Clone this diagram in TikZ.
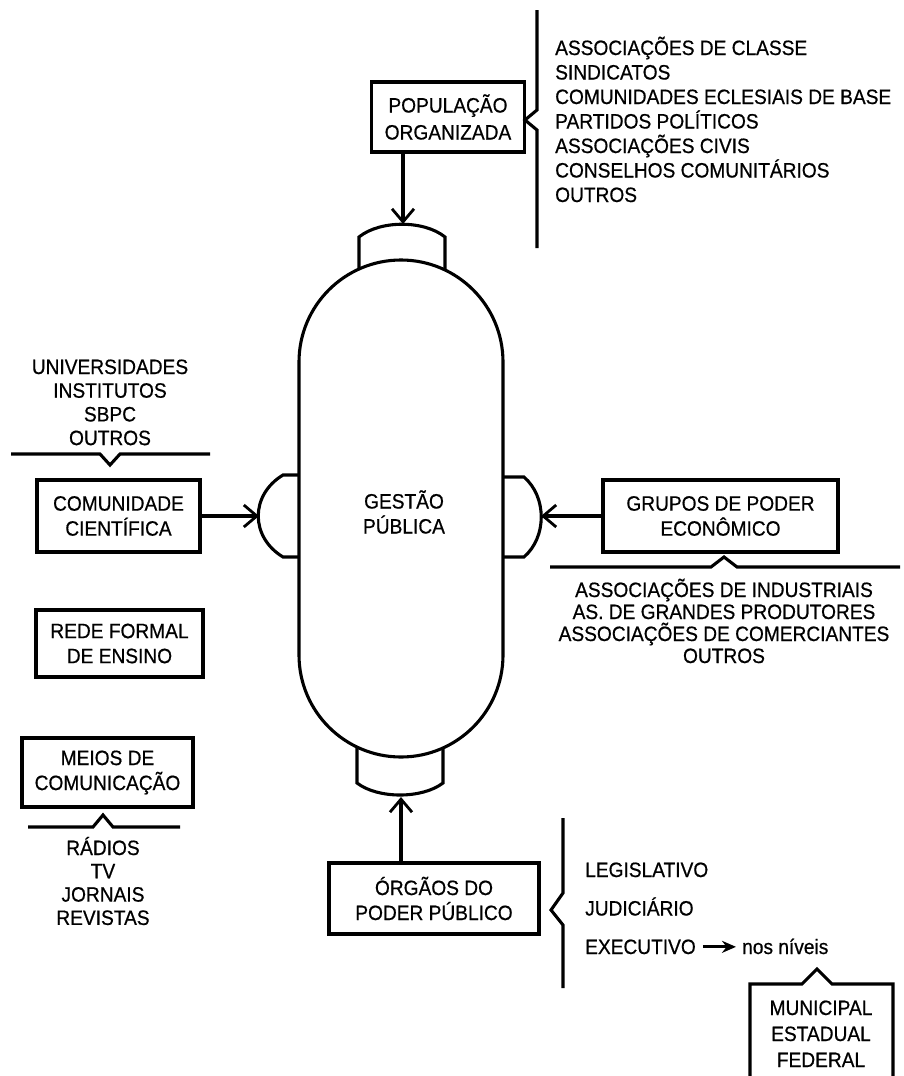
\documentclass[tikz,border=0pt]{standalone}
\usepackage{fontspec}
\setmainfont{Liberation Sans}[FakeStretch=0.92,FakeBold=0.6]
\usetikzlibrary{arrows.meta}
\begin{document}
\begin{tikzpicture}[x=1pt,y=-1pt,
  every node/.style={font=\fontsize{20.8}{25}\selectfont, inner sep=0pt},
  box/.style={draw, line width=3.2pt, align=center},
  ln/.style={line width=3.1pt, line join=miter},
  arr/.style={line width=3.1pt, -{Straight Barb[length=13pt,width=22pt,line width=2.8pt]}},
  sarr/.style={line width=2.8pt, -{Stealth[length=14pt,width=12pt]}},
  lbl/.style={anchor=base},
  lbll/.style={anchor=base west}]
\useasboundingbox (0,0) rectangle (903,1076);

% capsule
\draw[ln] (299,655) -- (299,362) arc[start angle=180,end angle=360,radius=102]
  -- (503,655) arc[start angle=0,end angle=180,radius=102] -- cycle;
% caps
\draw[ln] (359,269) -- (359,237) .. controls (380,220) and (424,220) .. (445,237) -- (445,269);
\draw[ln] (357,747) -- (357,783) .. controls (378,799) and (422,799) .. (443,783) -- (443,747);
\draw[ln] (299,475) -- (283,475) .. controls (250,495) and (250,537) .. (283,557) -- (299,557);
\draw[ln] (503,477) -- (524,477) .. controls (547,497) and (547,537) .. (524,557) -- (503,557);
\coordinate (topcap) at (403,224);
\coordinate (botcap) at (401,797);
\coordinate (leftcap) at (259,516);
\coordinate (rightcap) at (541,516);

\node (gestao) [align=center] at (404,512) {GESTÃO\\PÚBLICA};

% boxes
\node[box, minimum width=153pt, minimum height=70pt, font=\fontsize{20.8}{27}\selectfont] (pop) at (448,117) {POPULAÇÃO\\ORGANIZADA};
\node[box, minimum width=163pt, minimum height=72pt] (comm) at (118.5,516) {COMUNIDADE\\CIENTÍFICA};
\node[box, minimum width=167pt, minimum height=67pt] (rede) at (119.5,643.5) {REDE FORMAL\\DE ENSINO};
\node[box, minimum width=171pt, minimum height=69pt] (meios) at (107.5,772.5) {MEIOS DE\\COMUNICAÇÃO};
\node[box, minimum width=235pt, minimum height=72pt] (grupos) at (720.5,516) {GRUPOS DE PODER\\ECONÔMICO};
\node[box, minimum width=210pt, minimum height=71pt] (orgaos) at (434,898.5) {ÓRGÃOS DO\\PODER PÚBLICO};

% arrows into the capsule
\draw[arr] (pop.south -| topcap) -- (topcap);
\draw[arr] (comm) -- (leftcap);
\draw[arr] (grupos) -- (rightcap);
\draw[arr] (orgaos.north -| botcap) -- (botcap);

% top right list
\draw[ln] (537,10) -- (537,110) -- (525,120) -- (537,130) -- (537,248);
\foreach \t [count=\i] in {ASSOCIAÇÕES DE CLASSE,SINDICATOS,COMUNIDADES ECLESIAIS DE BASE,PARTIDOS POLÍTICOS,ASSOCIAÇÕES CIVIS,CONSELHOS COMUNITÁRIOS,OUTROS}
  \node[lbll] (pl\i) at (555,30.5+24.5*\i) {\t};

% left top list
\foreach \t [count=\i] in {UNIVERSIDADES,INSTITUTOS,SBPC,OUTROS}
  \node[lbl] (un\i) at (110,350.3+23.7*\i) {\t};
\draw[ln] (11,454) -- (100,454) -- (110,465) -- (120,454) -- (210,454);

% media list
\draw[ln] (28,827) -- (93,827) -- (103,815) -- (113,827) -- (180,827);
\foreach \t [count=\i] in {RÁDIOS,TV,JORNAIS,REVISTAS}
  \node[lbl] (md\i) at (103,831.7+23.3*\i) {\t};

% grupos list
\draw[ln] (550,567) -- (711,567) -- (724,557) -- (737,567) -- (900,567);
\foreach \t [count=\i] in {ASSOCIAÇÕES DE INDUSTRIAIS,AS. DE GRANDES PRODUTORES,ASSOCIAÇÕES DE COMERCIANTES,OUTROS}
  \node[lbl] (gr\i) at (724,575+22*\i) {\t};

% orgaos list
\draw[ln] (563,818) -- (563,893) -- (551,910) -- (563,925) -- (563,988);
\node[lbll] (leg) at (585,877) {LEGISLATIVO};
\node[lbll] (jud) at (585,915.5) {JUDICIÁRIO};
\node[lbll] (exe) at (585,954) {EXECUTIVO};
\node[lbll] (nos) at (742,954) {nos níveis};
\draw[sarr] ([xshift=7pt]exe.east) -- ([xshift=-6pt]exe.east -| nos.west);

% niveis box
\draw[ln] (750,1080) -- (750,984) -- (802,984) -- (817,969) -- (832,984) -- (893,984) -- (893,1080);
\foreach \t [count=\i] in {MUNICIPAL,ESTADUAL,FEDERAL}
  \node[lbl] (nv\i) at (821,989+26*\i) {\t};
\end{tikzpicture}
\end{document}
